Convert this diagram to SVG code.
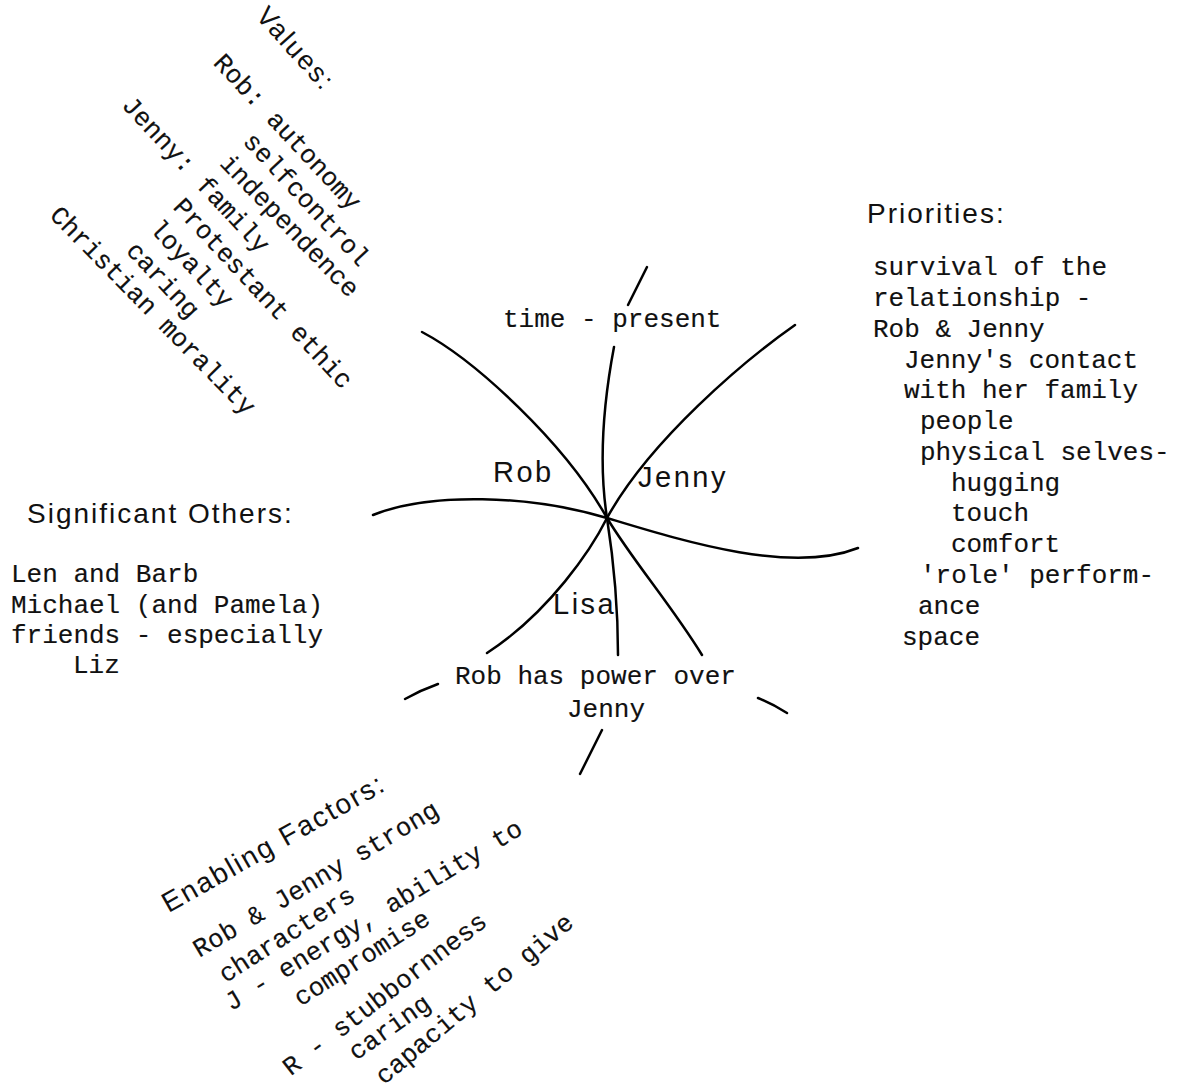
<svg xmlns="http://www.w3.org/2000/svg" width="1187" height="1090" viewBox="0 0 1187 1090">
<style>
.m{font-family:"Liberation Mono","DejaVu Sans Mono",monospace;font-size:26px;fill:#111;stroke:#111;stroke-width:0.15px;}
.s{font-family:"Liberation Sans",Arial,sans-serif;font-size:28px;letter-spacing:2px;fill:#111;}
.n{font-family:"Liberation Sans",Arial,sans-serif;font-size:29px;letter-spacing:2.5px;fill:#111;}
.c{fill:none;stroke:#000;stroke-width:2.5;stroke-linecap:round;stroke-linejoin:round;}
</style>
<rect width="1187" height="1090" fill="#fff"/>
<g id="connectors">
<path class="c" d="M422,332 C475,360 565,443 607,518 C633,561 672,606 702,655"/>
<path class="c" d="M795,325 C745,360 650,440 607,518 C592,548 550,612 487,653"/>
<path class="c" d="M614,347 C604,400 598,460 607,518 C612,550 618,600 618,655"/>
<path class="c" d="M373,515 C430,492 530,495 607,518 C680,540 790,575 858,548"/>
<path class="c" d="M647,267 L628,305"/>
<path class="c" d="M602,730 L580,774"/>
<path class="c" d="M405,699 Q421,690 438,684"/>
<path class="c" d="M758,698 Q773,704 787,713"/>
</g>
<g id="center">
<text class="m" x="503" y="327">time - present</text>
<text class="n" x="493" y="482">Rob</text>
<text class="n" x="638" y="487">Jenny</text>
<text class="n" x="553" y="614">Lisa</text>
<text class="m" x="455" y="684">Rob has power over</text>
<text class="m" x="567" y="717">Jenny</text>
</g>
<g id="values" transform="rotate(47)">
<text class="s" style="font-size:27px;letter-spacing:2px" x="186" y="-175" transform="rotate(1 186 -175)">Values:</text>
<text class="m" x="191.2" y="-112">Rob: autonomy</text>
<text class="m" x="269.2" y="-80">selfcontrol</text>
<text class="m" x="269.2" y="-48" transform="rotate(-1 269.2 -48)">independence</text>
<text class="m" x="160" y="-16">Jenny: family</text>
<text class="m" x="269.2" y="16">Protestant ethic</text>
<text class="m" x="269.2" y="48">loyalty</text>
<text class="m" x="269.2" y="80">caring</text>
<text class="m" x="191.2" y="112" transform="rotate(-1.5 191.2 112)">Christian morality</text>
</g>
<g id="priorities">
<text class="s" x="867" y="223">Priorities:</text>
<text class="m" x="873" y="275">survival of the</text>
<text class="m" x="873" y="306">relationship -</text>
<text class="m" x="873" y="337">Rob &amp; Jenny</text>
<text class="m" x="904" y="368">Jenny's contact</text>
<text class="m" x="904" y="398">with her family</text>
<text class="m" x="920" y="429">people</text>
<text class="m" x="920" y="460">physical selves-</text>
<text class="m" x="951" y="491">hugging</text>
<text class="m" x="951" y="521">touch</text>
<text class="m" x="951" y="552">comfort</text>
<text class="m" x="920" y="583">'role' perform-</text>
<text class="m" x="918" y="614">ance</text>
<text class="m" x="902" y="645">space</text>
</g>
<g id="significant-others">
<text class="s" x="27" y="523">Significant Others:</text>
<text class="m" x="11" y="582">Len and Barb</text>
<text class="m" x="11" y="613">Michael (and Pamela)</text>
<text class="m" x="11" y="643">friends - especially</text>
<text class="m" x="73" y="673">Liz</text>
</g>
<g id="enabling-factors">
<text class="s" x="168.5" y="913.3" transform="rotate(-29.5 168.5 913.3)">Enabling Factors:</text>
<text class="m" x="199.3" y="958" transform="rotate(-30.7 199.3 958)">Rob &amp; Jenny strong</text>
<text class="m" x="225.4" y="983.3" transform="rotate(-32.5 225.4 983.3)">characters</text>
<text class="m" x="231" y="1011.4" transform="rotate(-31.3 231 1011.4)">J - energy, ability to</text>
<text class="m" x="300.5" y="1006.8" transform="rotate(-32.6 300.5 1006.8)">compromise</text>
<text class="m" x="290.7" y="1076.5" transform="rotate(-37.5 290.7 1076.5)">R - stubbornness</text>
<text class="m" x="356" y="1061" transform="rotate(-35.3 356 1061)">caring</text>
<text class="m" x="384" y="1085.5" transform="rotate(-40 384 1085.5)">capacity to give</text>
</g>
</svg>
